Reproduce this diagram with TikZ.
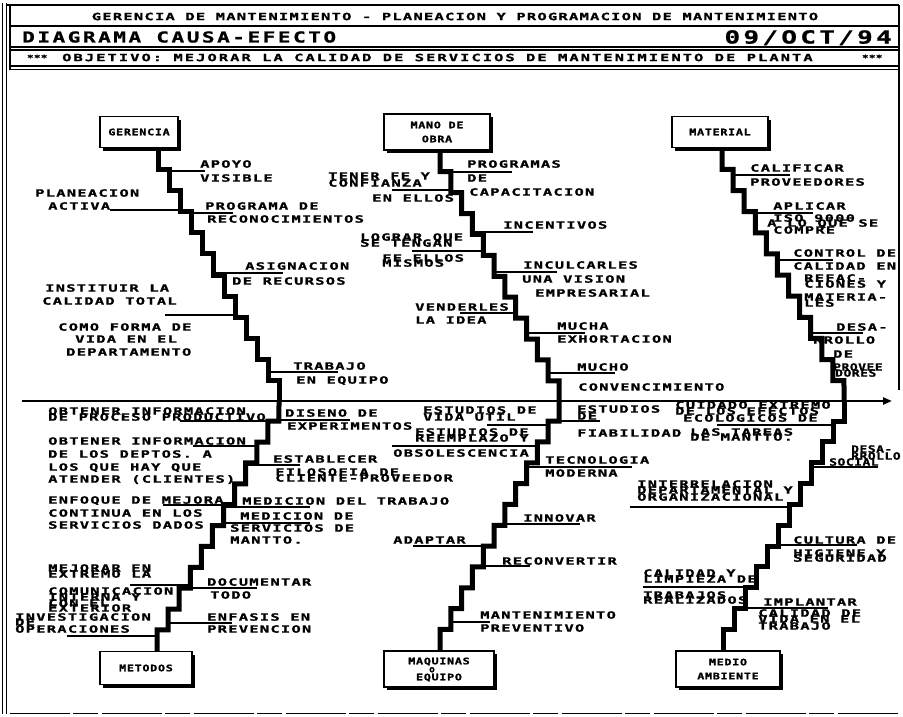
\documentclass[tikz,border=0pt]{standalone}
\usepackage{fontspec}
\usetikzlibrary{arrows.meta,shadows}
\newfontfamily\lblfont{DejaVu Sans Mono}[FakeStretch=1.55,LetterSpace=12,FakeBold=1.2]
\newfontfamily\objfont{DejaVu Sans Mono}[FakeStretch=1.55,LetterSpace=20,FakeBold=1.2]
\newfontfamily\bigfont{DejaVu Sans Mono}[FakeStretch=1.4,LetterSpace=17,FakeBold=1]
\newfontfamily\datefont{DejaVu Sans Mono}[FakeStretch=1.45,LetterSpace=18,FakeBold=1]
\newfontfamily\boxfont{DejaVu Sans Mono}[FakeStretch=1.3,LetterSpace=8,FakeBold=1.5]
\newfontfamily\condfont{DejaVu Sans Mono}[FakeStretch=1.3,LetterSpace=5,FakeBold=1.2]

\tikzset{
  lbl/.style={anchor=west, inner sep=0pt, text height=7.3pt, text depth=0pt,
    font=\lblfont\bfseries\fontsize{10}{12}\selectfont},
  lblc/.style={lbl, font=\condfont\bfseries\fontsize{10}{12}\selectfont},
  hdA/.style={inner sep=0pt, text height=7.3pt, text depth=0pt,
    font=\lblfont\bfseries\fontsize{10}{12}\selectfont},
  hdB/.style={inner sep=0pt, text height=10.9pt, text depth=0pt,
    font=\bigfont\bfseries\fontsize{15}{18}\selectfont},
  hdD/.style={inner sep=0pt, text height=13pt, text depth=0pt,
    font=\datefont\bfseries\fontsize{18}{20}\selectfont},
  hdC/.style={anchor=west, inner sep=0pt, text height=7.3pt, text depth=0pt,
    font=\objfont\bfseries\fontsize{10}{12}\selectfont},
  stars/.style={anchor=west, inner sep=0pt, text height=5pt, text depth=0pt,
    font=\boxfont\bfseries\fontsize{8}{10}\selectfont},
  cbox/.style={draw, line width=1.5pt, fill=white, inner sep=0pt, align=center,
    drop shadow={shadow xshift=3pt, shadow yshift=-3pt, opacity=1, fill=black},
    font=\boxfont\bfseries\fontsize{9}{14}\selectfont},
  btxt/.style={inner sep=0pt, text height=6.6pt, text depth=0pt,
    font=\boxfont\bfseries\fontsize{9}{12}\selectfont},
  bone/.style={line width=5pt, line join=miter},
  cause/.style={line width=1.3pt},
  spine/.style={line width=2.8pt, -{Triangle[length=9pt,width=7pt]}},
  frame/.style={line width=1.3pt},
}

\begin{document}
\begin{tikzpicture}[x=1pt, y=-1pt]
\useasboundingbox (0,0) rectangle (903,716);

% ---------- page frame and title block ----------
\draw[frame] (2.5,3) -- (2.5,714);
\draw[frame] (6.5,3) -- (6.5,714);
\draw[frame] (6.5,5) -- (899,5);
\draw[frame] (10,5) -- (10,70);
\draw[frame] (899,5) -- (899,390);
\draw[frame] (10,26) -- (899,26);
\draw[frame] (10,47) -- (899,47);
\draw[frame] (10,50) -- (899,50);
\draw[frame] (10,66) -- (899,66);
\draw[frame] (10,69.5) -- (899,69.5);
\draw[line width=1pt, dash pattern=on 60pt off 3pt on 25pt off 4pt] (10,713) -- (900,713);

\node[hdA] (title) at (455,16.5) {GERENCIA DE MANTENIMIENTO - PLANEACION Y PROGRAMACION DE MANTENIMIENTO};
\node[hdB, anchor=west] (diag) at (22,37) {DIAGRAMA CAUSA-EFECTO};
\node[hdD, anchor=east] (date) at (892,37) {09/OCT/94};
\node[stars] (starsL) at (27,58) {***};
\node[hdC] (obj) at (62,57.5) {OBJETIVO: MEJORAR LA CALIDAD DE SERVICIOS DE MANTENIMIENTO DE PLANTA};
\node[stars] (starsR) at (862,58) {***};

% ---------- category boxes ----------
\node[cbox, minimum width=78pt, minimum height=31pt] (ger) at (139,132) {GERENCIA};
\node[cbox, minimum width=106pt, minimum height=36pt] (mano) at (437,132) {MANO DE\\OBRA};
\node[cbox, minimum width=96pt, minimum height=31pt] (mat) at (720,132) {MATERIAL};
\node[cbox, minimum width=92pt, minimum height=33pt] (met) at (146,668) {METODOS};
\node[cbox, minimum width=110pt, minimum height=36pt] (maq) at (439,669) {};
\node[btxt] (maq1) at (439,661) {MAQUINAS};
\node[btxt, font=\boxfont\bfseries\fontsize{7}{8}\selectfont] (maq2) at (432,669) {O};
\node[btxt] (maq3) at (439,677) {EQUIPO};
\node[cbox, minimum width=104pt, minimum height=36pt] (med) at (728,669) {MEDIO\\AMBIENTE};

% ---------- spine ----------
\coordinate (tail) at (22,401);
\coordinate (head) at (892,401);
\coordinate (j1) at (279,401);
\coordinate (j2) at (559,401);
\coordinate (j3) at (844,401);
\draw[spine] (tail) -- (head);

% ---------- stepped bones ----------
\draw[bone] ([xshift=19pt]ger.south) \foreach \i in {1,...,11} { -- ++(0,21.125) -- ++(11,0) } -- (j1);
\draw[bone] ([xshift=3pt]mano.south) \foreach \i in {1,...,11} { -- ++(0,20.917) -- ++(10.818,0) } -- (j2);
\draw[bone] ([xshift=2pt]mat.south) \foreach \i in {1,...,11} { -- ++(0,21.125) -- ++(11.09,0) } -- (j3);
\draw[bone] ([xshift=11pt]met.north) \foreach \i in {1,...,11} { -- ++(0,-20.875) -- ++(11.09,0) } -- (j1);
\draw[bone] ([xshift=1pt]maq.north) \foreach \i in {1,...,11} { -- ++(0,-20.833) -- ++(10.818,0) } -- (j2);
\draw[bone] ([xshift=-5pt]med.north) \foreach \i in {1,...,11} { -- ++(0,-20.833) -- ++(11,0) } -- (j3);

% ---------- GERENCIA causes ----------
\draw[cause] (169,171) -- (205,171);
\node[lbl] (g1a) at (200,164) {APOYO};
\node[lbl] (g1b) at (200,178) {VISIBLE};
\draw[cause] (110,210) -- (180,210);
\node[lbl] (g2a) at (35,193) {PLANEACION};
\node[lbl] (g2b) at (48,206) {ACTIVA};
\draw[cause] (191,213) -- (233,213);
\node[lbl] (g3a) at (205,206) {PROGRAMA DE};
\node[lbl] (g3b) at (207,219) {RECONOCIMIENTOS};
\draw[cause] (213,273) -- (283,273);
\node[lbl] (g4a) at (245,266) {ASIGNACION};
\node[lbl] (g4b) at (232,281) {DE RECURSOS};
\draw[cause] (165,315) -- (235,315);
\node[lbl] (g5a) at (45,288) {INSTITUIR LA};
\node[lbl] (g5b) at (42,301) {CALIDAD TOTAL};
\node[lbl] (g6a) at (58,327) {COMO FORMA DE};
\node[lbl] (g6b) at (75,339) {VIDA EN EL};
\node[lbl] (g6c) at (66,352) {DEPARTAMENTO};
\draw[cause] (268,372) -- (338,372);
\node[lbl] (g7a) at (293,366) {TRABAJO};
\node[lbl] (g7b) at (296,380) {EN EQUIPO};

% ---------- MANO DE OBRA causes ----------
\draw[cause] (451,172) -- (512,172);
\node[lbl] (m1a) at (467,164) {PROGRAMAS};
\node[lbl] (m1b) at (467,178) {DE};
\node[lbl] (m1c) at (469,192) {CAPACITACION};
\draw[cause] (392,190) -- (451,190);
\node[lbl] (m2a) at (328,176) {TENER FE Y};
\node[lbl] (m2b) at (328,183) {CONFIANZA};
\node[lbl] (m2c) at (372,198) {EN ELLOS};
\draw[cause] (472.5,232) -- (533,232);
\node[lbl] (m3a) at (503,225) {INCENTIVOS};
\draw[cause] (412,251) -- (483.3,251);
\node[lbl] (m4a) at (360,237) {LOGRAR QUE};
\node[lbl] (m4b) at (360,243) {SE TENGAN};
\node[lbl] (m4c) at (382,258) {FE ELLOS};
\node[lbl] (m4d) at (382,263) {MISMOS};
\draw[cause] (494.1,272) -- (557,272);
\node[lbl] (m5a) at (523,265) {INCULCARLES};
\node[lbl] (m5b) at (522,279) {UNA VISION};
\node[lbl] (m5c) at (535,293) {EMPRESARIAL};
\draw[cause] (460,313) -- (515.7,313);
\node[lbl] (m6a) at (415,307) {VENDERLES};
\node[lbl] (m6b) at (415,320) {LA IDEA};
\draw[cause] (526.5,333) -- (585,333);
\node[lbl] (m7a) at (557,326) {MUCHA};
\node[lbl] (m7b) at (557,339) {EXHORTACION};
\draw[cause] (548.2,373) -- (615,373);
\node[lbl] (m8a) at (577,367) {MUCHO};
\node[lbl] (m8b) at (578,387) {CONVENCIMIENTO};

% ---------- MATERIAL causes ----------
\draw[cause] (733,175) -- (790,175);
\node[lbl] (r1a) at (750,168) {CALIFICAR};
\node[lbl] (r1b) at (750,182) {PROVEEDORES};
\draw[cause] (755.3,213) -- (813,213);
\node[lbl] (r2a) at (773,206) {APLICAR};
\node[lbl] (r2b) at (773,218) {ISO 9000};
\node[lbl] (r2c) at (767,223) {A LO QUE SE};
\node[lbl] (r2d) at (773,230) {COMPRE};
\draw[cause] (777.5,260) -- (833,260);
\node[lbl] (r3a) at (793,253) {CONTROL DE};
\node[lbl] (r3b) at (793,266) {CALIDAD EN};
\node[lbl] (r3c) at (804,278) {REFAC-};
\node[lbl] (r3d) at (804,284) {CIONES Y};
\node[lbl] (r3e) at (804,297) {MATERIA-};
\node[lbl] (r3f) at (804,303) {LES};
\draw[cause] (810.7,333) -- (863,333);
\node[lbl] (r4a) at (836,327) {DESA-};
\node[lbl] (r4b) at (813,340) {RROLLO};
\node[lbl] (r4c) at (833,354) {DE};
\node[lblc] (r4d) at (833,367) {PROVEE};
\node[lblc] (r4e) at (835,373) {DORES};

% ---------- METODOS causes ----------
\draw[cause] (180,421) -- (279,421);
\node[lbl] (l1a) at (48,411) {OBTENER INFORMACION};
\node[lbl] (l1b) at (48,417) {DE PROCESO PRODUCTIVO};
\draw[cause] (279,420) -- (350,420);
\node[lbl] (l2a) at (285,413) {DISENO DE};
\node[lbl] (l2b) at (287,426) {EXPERIMENTOS};
\draw[cause] (193,446) -- (256.8,446);
\node[lbl] (l3a) at (48,441) {OBTENER INFORMACION};
\node[lbl] (l3b) at (48,454) {DE LOS DEPTOS. A};
\node[lbl] (l3c) at (48,467) {LOS QUE HAY QUE};
\node[lbl] (l3d) at (48,479) {ATENDER (CLIENTES)};
\draw[cause] (245.7,465) -- (300,465);
\node[lbl] (l4a) at (273,459) {ESTABLECER};
\node[lbl] (l4b) at (275,472) {FILOSOFIA DE};
\node[lbl] (l4c) at (275,478) {CLIENTE-PROVEEDOR};
\draw[cause] (163,505) -- (234.6,505);
\node[lbl] (l5a) at (48,500) {ENFOQUE DE MEJORA};
\node[lbl] (l5b) at (48,513) {CONTINUA EN LOS};
\node[lbl] (l5c) at (48,525) {SERVICIOS DADOS};
\draw[cause] (223.5,507) -- (310,507);
\node[lbl] (l6a) at (242,501) {MEDICION DEL TRABAJO};
\draw[cause] (223.5,523) -- (310,523);
\node[lbl] (l7a) at (240,516) {MEDICION DE};
\node[lbl] (l7b) at (230,528) {SERVICIOS DE};
\node[lbl] (l7c) at (230,540) {MANTTO.};
\draw[cause] (130,585) -- (190.3,585);
\node[lbl] (l8a) at (48,568) {MEJORAR EN};
\node[lbl] (l8b) at (48,574) {EXTREMO LA};
\node[lbl] (l8c) at (48,591) {COMUNICACION};
\node[lbl] (l8d) at (48,597) {INTERNA Y};
\node[lbl] (l8e) at (48,603) {CON EL};
\node[lbl] (l8f) at (48,608) {EXTERIOR};
\draw[cause] (190.3,588) -- (257,588);
\node[lbl] (l9a) at (207,582) {DOCUMENTAR};
\node[lbl] (l9b) at (210,595) {TODO};
\draw[cause] (67,636) -- (157,636);
\node[lbl] (l10a) at (15,617) {INVESTIGACION};
\node[lbl] (l10b) at (15,622) {DE};
\node[lbl] (l10c) at (15,629) {OPERACIONES};
\draw[cause] (168,623) -- (232,623);
\node[lbl] (l11a) at (207,617) {ENFASIS EN};
\node[lbl] (l11b) at (207,629) {PREVENCION};

% ---------- MAQUINAS O EQUIPO causes ----------
\draw[cause] (487,425) -- (548.2,425);
\node[lbl] (q1a) at (423,410) {ESTUDIOS DE};
\node[lbl] (q1b) at (423,417) {VIDA UTIL};
\draw[cause] (392,446) -- (537.4,446);
\node[lbl] (q2a) at (415,432) {ESTUDIOS DE};
\node[lbl] (q2b) at (415,438) {REEMPLAZO Y};
\node[lbl] (q2c) at (393,453) {OBSOLESCENCIA};
\draw[cause] (526.5,467) -- (632,467);
\node[lbl] (q3a) at (545,460) {TECNOLOGIA};
\node[lbl] (q3b) at (545,473) {MODERNA};
\draw[cause] (505,524) -- (580,524);
\node[lbl] (q4a) at (523,518) {INNOVAR};
\draw[cause] (413,546) -- (494.1,546);
\node[lbl] (q5a) at (393,540) {ADAPTAR};
\draw[cause] (483.3,566) -- (530,566);
\node[lbl] (q6a) at (502,561) {RECONVERTIR};
\draw[cause] (450.8,622) -- (490,622);
\node[lbl] (q7a) at (480,615) {MANTENIMIENTO};
\node[lbl] (q7b) at (480,628) {PREVENTIVO};

% ---------- MEDIO AMBIENTE causes ----------
\draw[cause] (559,421) -- (600,421);
\node[lbl] (e1a) at (577,409) {ESTUDIOS};
\node[lbl] (e1b) at (577,416) {DE};
\node[lbl] (e1c) at (577,433) {FIABILIDAD};
\draw[cause] (717,425) -- (833,425);
\node[lbl] (e2a) at (675,405) {CUIDADO EXTREMO};
\node[lbl] (e2b) at (675,411) {DE LOS EFECTOS};
\node[lbl] (e2c) at (683,418) {ECOLOGICOS DE};
\node[lbl] (e2d) at (690,432) {LAS TAREAS};
\node[lbl] (e2e) at (690,437) {DE MANTTO.};
\draw[cause] (811,467) -- (878,467);
\node[lblc] (e3a) at (851,449) {DESA-};
\node[lblc] (e3b) at (851,456) {RROLLO};
\node[lblc] (e3c) at (829,462) {SOCIAL};
\draw[cause] (630,507) -- (789,507);
\node[lbl] (e4a) at (637,484) {INTERRELACION};
\node[lbl] (e4b) at (637,490) {DEPARTAMENTAL Y};
\node[lbl] (e4c) at (637,497) {ORGANIZACIONAL};
\draw[cause] (778,545) -- (857,545);
\node[lbl] (e5a) at (793,540) {CULTURA DE};
\node[lbl] (e5b) at (793,553) {HIGIENE Y};
\node[lbl] (e5c) at (793,558) {SEGURIDAD};
\draw[cause] (643,587) -- (756,587);
\node[lbl] (e6a) at (643,573) {CALIDAD Y};
\node[lbl] (e6b) at (643,579) {LIMPIEZA DE};
\node[lbl] (e6c) at (643,595) {TRABAJOS};
\node[lbl] (e6d) at (643,600) {REALIZADOS};
\draw[cause] (745,608) -- (828,608);
\node[lbl] (e7a) at (763,602) {IMPLANTAR};
\node[lbl] (e7b) at (758,613) {CALIDAD DE};
\node[lbl] (e7c) at (758,619) {VIDA EN EL};
\node[lbl] (e7d) at (758,626) {TRABAJO};
\end{tikzpicture}
\end{document}
